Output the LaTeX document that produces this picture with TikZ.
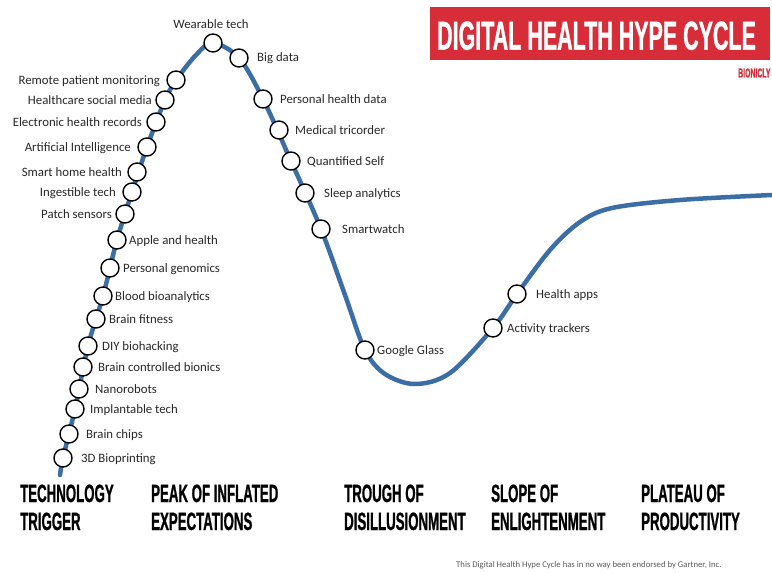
\documentclass[tikz,border=0pt]{standalone}
\usepackage{fontspec}
\usepackage{graphicx}
\setmainfont{Carlito}
\newfontfamily\condfont[FakeStretch=0.53, BoldFeatures={FakeBold=0.8}]{Liberation Sans}
\definecolor{curveblue}{RGB}{58,110,165}
\definecolor{titlered}{RGB}{214,45,56}
\definecolor{labelgray}{RGB}{40,40,40}
\definecolor{footgray}{RGB}{90,90,90}
\begin{document}
\begin{tikzpicture}[x=1pt,y=-1pt,
  dot/.style={circle, draw=black, line width=1.4pt, fill=white, minimum size=18pt, inner sep=0pt},
  lbl/.style={font=\fontsize{12.8}{14}\selectfont, text=labelgray, inner sep=0pt, text height=8.2pt, text depth=0pt},
  lblr/.style={lbl, anchor=east},
  lbll/.style={lbl, anchor=west},
  stage/.style={font=\condfont\bfseries\fontsize{25}{28}\selectfont, anchor=base west, inner sep=0pt, text=black}]
\useasboundingbox (0,0) rectangle (772,573);
\fill[white] (0,0) rectangle (772,573);

% title
\fill[titlered] (430,7) rectangle (770,60);
\node[font=\condfont\bfseries\fontsize{40.5}{42}\selectfont, text=white, inner sep=0pt, text depth=0pt] (title) at (596.5,35.5) {DIGITAL HEALTH HYPE CYCLE};
\node[font=\condfont\bfseries\fontsize{13}{14}\selectfont, text=titlered, inner sep=0pt, anchor=west] (brand) at (738,73) {BIONICLY};

% curve
\draw[curveblue, line width=4.5pt, line cap=round] plot[smooth, tension=0.55] coordinates {
  (60,475) (63,458) (75,409) (88,346) (103,296) (117,240) (132,192) (147,147)
  (165,100) (177,79) (196,55) (213,43) (239,58) (263,99) (291,161) (321,229)
  (345,295) (365,350) (385,374) (415,384) (450,373) (493,328) (517,294)
  (550,250) (580,222) (612,208) (680,200) (772,195)};

% left side, labels on the left
\node[dot] (c1) at (176,80) {};  \node[lblr] (l1) at (160,80) {Remote patient monitoring};
\node[dot] (c2) at (165,100) {}; \node[lblr] (l2) at (152,100) {Healthcare social media};
\node[dot] (c3) at (156,122) {}; \node[lblr] (l3) at (142,122) {Electronic health records};
\node[dot] (c4) at (147,147) {}; \node[lblr] (l4) at (131,147) {Artificial Intelligence};
\node[dot] (c5) at (137,172) {}; \node[lblr] (l5) at (122,172) {Smart home health};
\node[dot] (c6) at (132,192) {}; \node[lblr] (l6) at (116,192) {Ingestible tech};
\node[dot] (c7) at (125,214) {}; \node[lblr] (l7) at (112,214) {Patch sensors};

% left side, labels on the right
\node[dot] (c8) at (117,240) {};  \node[lbll] (l8) at (129,240) {Apple and health};
\node[dot] (c9) at (110,268) {};  \node[lbll] (l9) at (123,268) {Personal genomics};
\node[dot] (c10) at (103,296) {}; \node[lbll] (l10) at (115,296) {Blood bioanalytics};
\node[dot] (c11) at (96,319) {};  \node[lbll] (l11) at (109,319) {Brain fitness};
\node[dot] (c12) at (88,346) {};  \node[lbll] (l12) at (102,346) {DIY biohacking};
\node[dot] (c13) at (83,367) {};  \node[lbll] (l13) at (98,367) {Brain controlled bionics};
\node[dot] (c14) at (79,389) {};  \node[lbll] (l14) at (95,389) {Nanorobots};
\node[dot] (c15) at (75,409) {};  \node[lbll] (l15) at (90,409) {Implantable tech};
\node[dot] (c16) at (69,434) {};  \node[lbll] (l16) at (86,434) {Brain chips};
\node[dot] (c17) at (63,458) {};  \node[lbll] (l17) at (81,458) {3D Bioprinting};

% peak
\node[dot] (c0) at (213,43) {}; \node[lbl, anchor=center] (l0) at (211,24) {Wearable tech};

% right of peak
\node[dot] (c18) at (239,58) {};  \node[lbll] (l18) at (257,57) {Big data};
\node[dot] (c19) at (263,99) {};  \node[lbll] (l19) at (280,99) {Personal health data};
\node[dot] (c20) at (279,130) {}; \node[lbll] (l20) at (295,130) {Medical tricorder};
\node[dot] (c21) at (291,161) {}; \node[lbll] (l21) at (307,161) {Quantified Self};
\node[dot] (c22) at (305,193) {}; \node[lbll] (l22) at (324,193) {Sleep analytics};
\node[dot] (c23) at (321,229) {}; \node[lbll] (l23) at (342,229) {Smartwatch};
\node[dot] (c24) at (365,350) {}; \node[lbll] (l24) at (377,350) {Google Glass};
\node[dot] (c25) at (493,328) {}; \node[lbll] (l25) at (507,328) {Activity trackers};
\node[dot] (c26) at (517,294) {}; \node[lbll] (l26) at (536,294) {Health apps};

% stages
\node[stage] (s1a) at (20,502) {TECHNOLOGY};
\node[stage] (s1b) at (20,530) {TRIGGER};
\node[stage] (s2a) at (151,502) {PEAK OF INFLATED};
\node[stage] (s2b) at (151,530) {EXPECTATIONS};
\node[stage] (s3a) at (344,502) {TROUGH OF};
\node[stage] (s3b) at (344,530) {DISILLUSIONMENT};
\node[stage] (s4a) at (491,502) {SLOPE OF};
\node[stage] (s4b) at (491,530) {ENLIGHTENMENT};
\node[stage] (s5a) at (641,502) {PLATEAU OF};
\node[stage] (s5b) at (641,530) {PRODUCTIVITY};

% footer
\node[font=\fontsize{8.7}{10}\selectfont, text=footgray, inner sep=0pt, anchor=west] (foot) at (456,565) {This Digital Health Hype Cycle has in no way been endorsed by Gartner, Inc.};
\end{tikzpicture}
\end{document}
